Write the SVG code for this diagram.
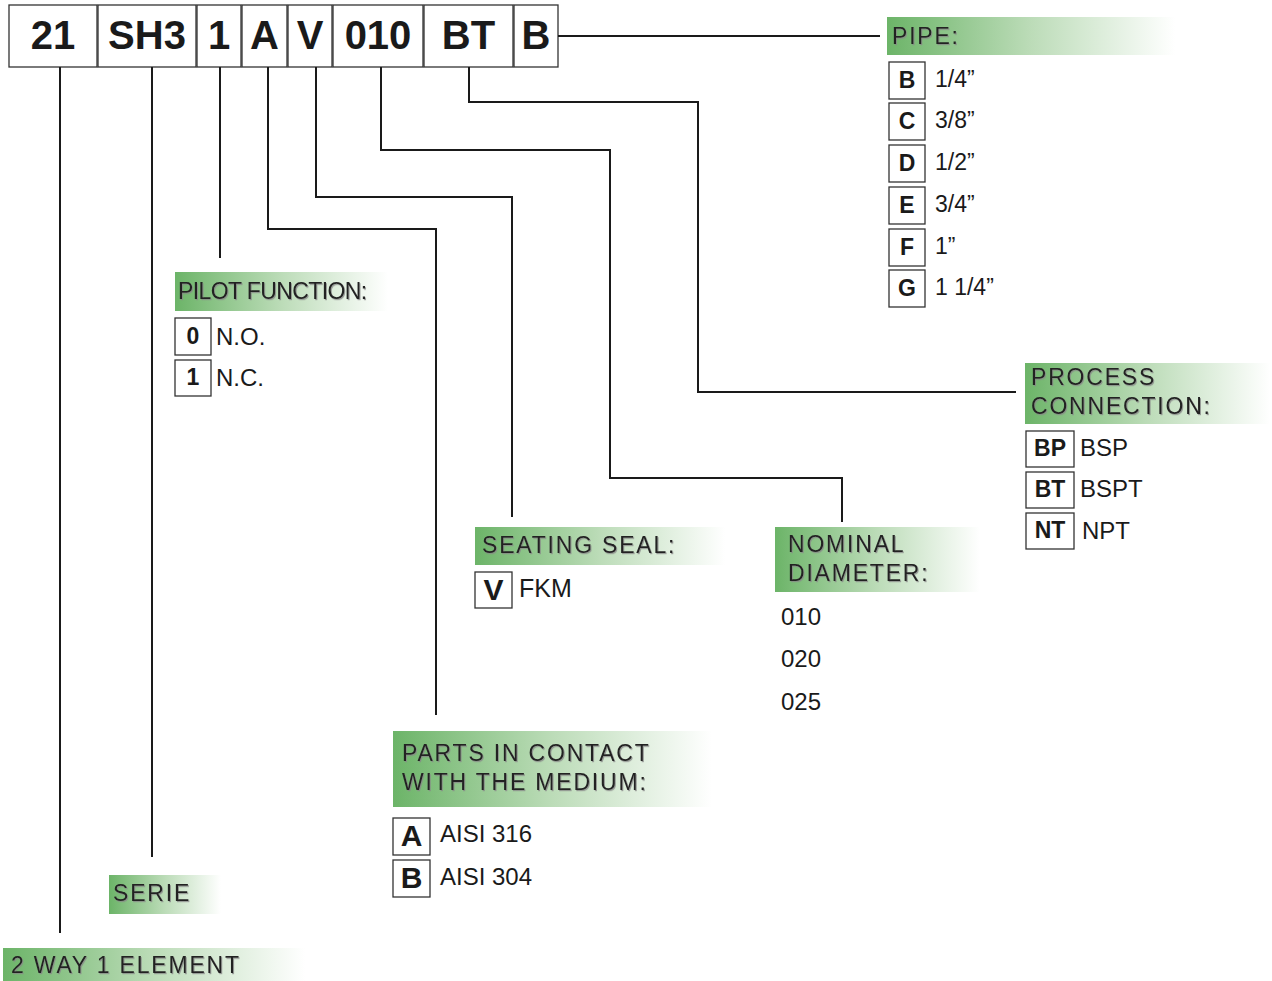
<svg xmlns="http://www.w3.org/2000/svg" width="1272" height="981" viewBox="0 0 1272 981">
<defs>
<linearGradient id="g" x1="0" y1="0" x2="1" y2="0">
<stop offset="0" stop-color="#6cb468"/>
<stop offset="0.5" stop-color="#bcdcb8"/>
<stop offset="1" stop-color="#ffffff"/>
</linearGradient>
<filter id="sh" x="-5%" y="-20%" width="110%" height="140%">
<feDropShadow dx="1" dy="1.2" stdDeviation="0.3" flood-color="#888" flood-opacity="0.8"/>
</filter>
</defs>
<style>
.code rect{fill:#fff;stroke:#333;stroke-width:1.3}
.code text{font-family:"Liberation Sans",Arial,sans-serif;font-weight:bold;font-size:40px;fill:#1a1a1a;text-anchor:middle}
.hdr{fill:url(#g)}
.ht{font-family:"Liberation Sans",Arial,sans-serif;font-size:23px;fill:#222;letter-spacing:1.8px;filter:url(#sh)}
.ob{fill:#fff;stroke:#333;stroke-width:1.3}
.ol{font-family:"Liberation Sans",Arial,sans-serif;font-weight:bold;font-size:23px;fill:#1a1a1a;text-anchor:middle}
.ot{font-family:"Liberation Sans",Arial,sans-serif;font-size:24px;fill:#1a1a1a}
.pt{font-size:23px}
.conn path{fill:none;stroke:#1a1a1a;stroke-width:2}
</style>
<rect width="1272" height="981" fill="#fff"/>
<g id="code" class="code">
<rect x="9" y="5" width="88" height="62"/><text x="53" y="49">21</text>
<rect x="98" y="5" width="98" height="62"/><text x="147" y="49">SH3</text>
<rect x="197" y="5" width="44" height="62"/><text x="219" y="49">1</text>
<rect x="242" y="5" width="45" height="62"/><text x="264.5" y="49">A</text>
<rect x="288" y="5" width="44" height="62"/><text x="310" y="49">V</text>
<rect x="333" y="5" width="90" height="62"/><text x="378" y="49">010</text>
<rect x="424" y="5" width="89" height="62"/><text x="468.5" y="49">BT</text>
<rect x="514" y="5" width="44" height="62"/><text x="536" y="49">B</text>
</g>
<g id="connectors" class="conn">
<path d="M60 67V933"/>
<path d="M152 67V857"/>
<path d="M220 67V258"/>
<path d="M268 67V229H436V715"/>
<path d="M316 67V197H512V517"/>
<path d="M381 67V150H610V478H842V522"/>
<path d="M469 67V102H698V392H1016"/>
<path d="M558 36H880"/>
</g>
<g id="pipe">
<rect class="hdr" x="887" y="17" width="288" height="38"/>
<text class="ht" x="892" y="44">PIPE:</text>
<rect class="ob" x="889" y="62" width="36" height="37"/><text class="ol" x="907" y="88">B</text><text class="ot pt" x="935" y="87">1/4”</text>
<rect class="ob" x="889" y="103" width="36" height="37"/><text class="ol" x="907" y="129">C</text><text class="ot pt" x="935" y="128">3/8”</text>
<rect class="ob" x="889" y="145" width="36" height="37"/><text class="ol" x="907" y="171">D</text><text class="ot pt" x="935" y="170">1/2”</text>
<rect class="ob" x="889" y="187" width="36" height="37"/><text class="ol" x="907" y="213">E</text><text class="ot pt" x="935" y="212">3/4”</text>
<rect class="ob" x="889" y="229" width="36" height="37"/><text class="ol" x="907" y="255">F</text><text class="ot pt" x="935" y="254">1”</text>
<rect class="ob" x="889" y="270" width="36" height="37"/><text class="ol" x="907" y="296">G</text><text class="ot pt" x="935" y="295">1 1/4”</text>
</g>
<g id="pilot-function">
<rect class="hdr" x="175" y="272" width="213" height="39"/>
<text class="ht" x="178" y="299" style="letter-spacing:-0.6px">PILOT FUNCTION:</text>
<rect class="ob" x="175" y="318" width="36" height="37"/><text class="ol" x="193" y="344">0</text><text class="ot" x="216" y="345">N.O.</text>
<rect class="ob" x="175" y="360" width="36" height="36"/><text class="ol" x="193" y="385">1</text><text class="ot" x="216" y="386">N.C.</text>
</g>
<g id="process-connection">
<rect class="hdr" x="1025" y="363" width="245" height="61"/>
<text class="ht" x="1031" y="385">PROCESS</text>
<text class="ht" x="1031" y="414">CONNECTION:</text>
<rect class="ob" x="1026" y="431" width="48" height="36"/><text class="ol" x="1050" y="456">BP</text><text class="ot" x="1080" y="456">BSP</text>
<rect class="ob" x="1026" y="472" width="48" height="36"/><text class="ol" x="1050" y="497">BT</text><text class="ot" x="1080" y="497">BSPT</text>
<rect class="ob" x="1026" y="513" width="48" height="36"/><text class="ol" x="1050" y="538">NT</text><text class="ot" x="1082" y="539">NPT</text>
</g>
<g id="seating-seal">
<rect class="hdr" x="475" y="527" width="250" height="38"/>
<text class="ht" x="482" y="553">SEATING SEAL:</text>
<rect class="ob" x="475" y="572" width="37" height="36"/><text class="ol" x="493.5" y="600" style="font-size:30px">V</text><text class="ot" x="519" y="597" style="font-size:25px">FKM</text>
</g>
<g id="nominal-diameter">
<rect class="hdr" x="775" y="527" width="205" height="65"/>
<text class="ht" x="788" y="552">NOMINAL</text>
<text class="ht" x="788" y="581">DIAMETER:</text>
<text class="ot" x="781" y="625">010</text>
<text class="ot" x="781" y="667">020</text>
<text class="ot" x="781" y="710">025</text>
</g>
<g id="parts-in-contact">
<rect class="hdr" x="393" y="731" width="319" height="76"/>
<text class="ht" x="402" y="761">PARTS IN CONTACT</text>
<text class="ht" x="402" y="790">WITH THE MEDIUM:</text>
<rect class="ob" x="393" y="818" width="37" height="37"/><text class="ol" x="411.5" y="846" style="font-size:30px">A</text><text class="ot" x="440" y="842">AISI 316</text>
<rect class="ob" x="393" y="860" width="37" height="37"/><text class="ol" x="411.5" y="888" style="font-size:30px">B</text><text class="ot" x="440" y="885">AISI 304</text>
</g>
<g id="serie">
<rect class="hdr" x="109" y="875" width="112" height="39"/>
<text class="ht" x="113" y="901">SERIE</text>
</g>
<g id="way-element">
<rect class="hdr" x="3" y="948" width="302" height="33"/>
<text class="ht" x="11" y="973">2 WAY 1 ELEMENT</text>
</g>
</svg>
